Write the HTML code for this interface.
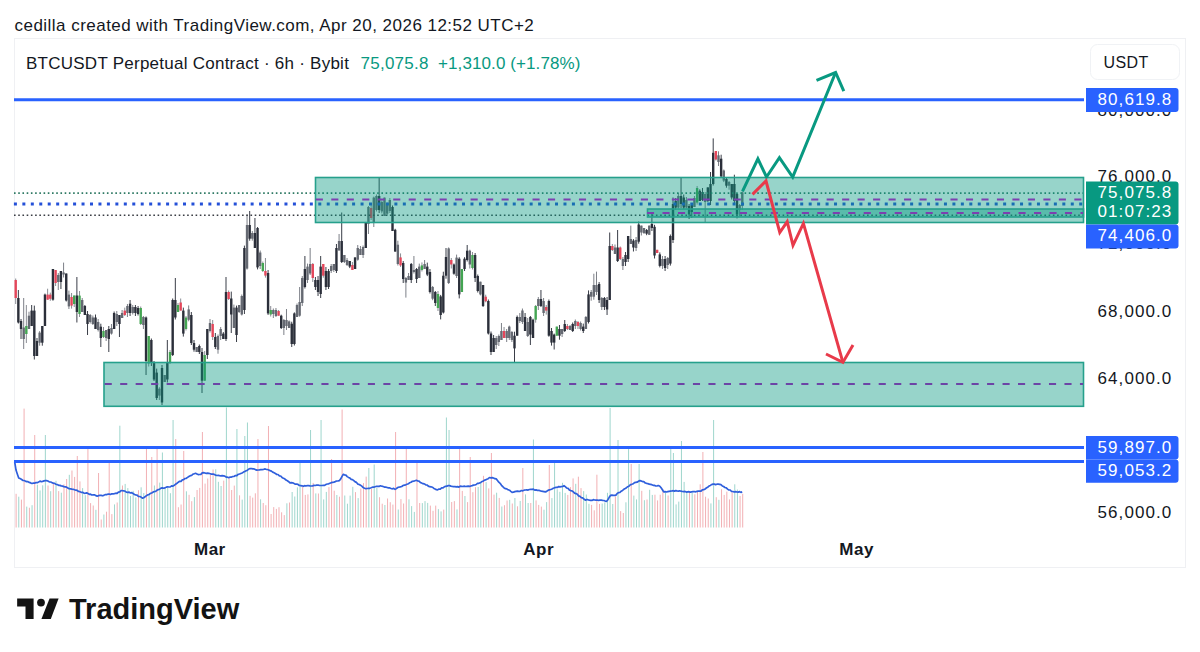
<!DOCTYPE html><html><head><meta charset="utf-8"><style>html,body{margin:0;padding:0;background:#fff;width:1200px;height:652px;overflow:hidden}svg{display:block}text{font-family:"Liberation Sans",sans-serif}</style></head><body>
<svg width="1200" height="652" viewBox="0 0 1200 652">
<text x="14.5" y="30.6" font-size="17" letter-spacing="0.47" fill="#131722">cedilla created with TradingView.com, Apr 20, 2026 12:52 UTC+2</text>
<rect x="14.5" y="38.5" width="1171" height="529" fill="none" stroke="#eff0f3" stroke-width="1"/>
<text x="26" y="68.7" font-size="17" letter-spacing="0.25" fill="#131722">BTCUSDT Perpetual Contract · 6h · Bybit</text>
<text x="360.5" y="68.7" font-size="17" letter-spacing="0.25" fill="#089981">75,075.8</text>
<text x="438" y="68.7" font-size="17" letter-spacing="0.1" fill="#089981">+1,310.0 (+1.78%)</text>
<rect x="1090.5" y="44.5" width="89" height="35" rx="7" fill="#fff" stroke="#f0f2f5"/>
<text x="1103.5" y="68.1" font-size="16" letter-spacing="0.4" fill="#131722">USDT</text>
<rect x="15.60" y="493.8" width="1" height="33.7" fill="#f2b0b4"/>
<rect x="18.26" y="496.7" width="1" height="30.8" fill="#9fd6cd"/>
<rect x="20.92" y="499.6" width="1" height="27.9" fill="#f2b0b4"/>
<rect x="23.58" y="408.6" width="1" height="118.9" fill="#f2b0b4"/>
<rect x="26.24" y="506.6" width="1" height="20.9" fill="#9fd6cd"/>
<rect x="28.90" y="507.7" width="1" height="19.8" fill="#f2b0b4"/>
<rect x="31.56" y="505.2" width="1" height="22.3" fill="#9fd6cd"/>
<rect x="34.22" y="435.0" width="1" height="92.5" fill="#f2b0b4"/>
<rect x="36.88" y="484.7" width="1" height="42.8" fill="#9fd6cd"/>
<rect x="39.54" y="490.4" width="1" height="37.1" fill="#9fd6cd"/>
<rect x="42.20" y="485.3" width="1" height="42.2" fill="#9fd6cd"/>
<rect x="44.86" y="435.0" width="1" height="92.5" fill="#9fd6cd"/>
<rect x="47.52" y="485.5" width="1" height="42.0" fill="#f2b0b4"/>
<rect x="50.18" y="491.2" width="1" height="36.3" fill="#9fd6cd"/>
<rect x="52.84" y="483.3" width="1" height="44.2" fill="#f2b0b4"/>
<rect x="55.50" y="480.8" width="1" height="46.7" fill="#9fd6cd"/>
<rect x="58.16" y="491.1" width="1" height="36.4" fill="#f2b0b4"/>
<rect x="60.82" y="492.7" width="1" height="34.8" fill="#9fd6cd"/>
<rect x="63.48" y="484.3" width="1" height="43.2" fill="#f2b0b4"/>
<rect x="66.14" y="479.0" width="1" height="48.5" fill="#f2b0b4"/>
<rect x="68.80" y="474.8" width="1" height="52.7" fill="#9fd6cd"/>
<rect x="71.46" y="470.5" width="1" height="57.0" fill="#f2b0b4"/>
<rect x="74.12" y="476.9" width="1" height="50.6" fill="#f2b0b4"/>
<rect x="76.78" y="456.0" width="1" height="71.5" fill="#f2b0b4"/>
<rect x="79.44" y="481.4" width="1" height="46.1" fill="#f2b0b4"/>
<rect x="82.10" y="488.1" width="1" height="39.4" fill="#9fd6cd"/>
<rect x="84.76" y="495.2" width="1" height="32.3" fill="#9fd6cd"/>
<rect x="87.42" y="448.0" width="1" height="79.5" fill="#f2b0b4"/>
<rect x="90.08" y="503.1" width="1" height="24.4" fill="#f2b0b4"/>
<rect x="92.74" y="505.5" width="1" height="22.0" fill="#f2b0b4"/>
<rect x="95.40" y="509.8" width="1" height="17.7" fill="#9fd6cd"/>
<rect x="98.06" y="473.0" width="1" height="54.5" fill="#f2b0b4"/>
<rect x="100.72" y="519.5" width="1" height="8.0" fill="#f2b0b4"/>
<rect x="103.38" y="514.5" width="1" height="13.0" fill="#9fd6cd"/>
<rect x="106.04" y="511.7" width="1" height="15.8" fill="#f2b0b4"/>
<rect x="108.70" y="462.0" width="1" height="65.5" fill="#f2b0b4"/>
<rect x="111.36" y="514.1" width="1" height="13.4" fill="#f2b0b4"/>
<rect x="114.02" y="504.4" width="1" height="23.1" fill="#9fd6cd"/>
<rect x="116.68" y="502.5" width="1" height="25.0" fill="#f2b0b4"/>
<rect x="119.34" y="425.7" width="1" height="101.8" fill="#9fd6cd"/>
<rect x="122.00" y="485.5" width="1" height="42.0" fill="#f2b0b4"/>
<rect x="124.66" y="483.9" width="1" height="43.6" fill="#9fd6cd"/>
<rect x="127.32" y="488.1" width="1" height="39.4" fill="#9fd6cd"/>
<rect x="129.98" y="495.9" width="1" height="31.6" fill="#9fd6cd"/>
<rect x="132.64" y="490.8" width="1" height="36.7" fill="#9fd6cd"/>
<rect x="135.30" y="497.5" width="1" height="30.0" fill="#9fd6cd"/>
<rect x="137.96" y="490.2" width="1" height="37.3" fill="#f2b0b4"/>
<rect x="140.62" y="487.3" width="1" height="40.2" fill="#9fd6cd"/>
<rect x="143.28" y="493.0" width="1" height="34.5" fill="#9fd6cd"/>
<rect x="145.94" y="448.0" width="1" height="79.5" fill="#f2b0b4"/>
<rect x="148.60" y="494.6" width="1" height="32.9" fill="#9fd6cd"/>
<rect x="151.26" y="457.0" width="1" height="70.5" fill="#f2b0b4"/>
<rect x="153.92" y="485.5" width="1" height="42.0" fill="#9fd6cd"/>
<rect x="156.58" y="449.0" width="1" height="78.5" fill="#f2b0b4"/>
<rect x="159.24" y="482.6" width="1" height="44.9" fill="#9fd6cd"/>
<rect x="161.90" y="452.5" width="1" height="75.0" fill="#9fd6cd"/>
<rect x="164.57" y="487.2" width="1" height="40.3" fill="#9fd6cd"/>
<rect x="167.23" y="487.9" width="1" height="39.6" fill="#9fd6cd"/>
<rect x="169.90" y="493.2" width="1" height="34.3" fill="#9fd6cd"/>
<rect x="172.57" y="420.0" width="1" height="107.5" fill="#9fd6cd"/>
<rect x="175.23" y="439.0" width="1" height="88.5" fill="#f2b0b4"/>
<rect x="177.90" y="507.2" width="1" height="20.3" fill="#f2b0b4"/>
<rect x="180.57" y="504.5" width="1" height="23.0" fill="#f2b0b4"/>
<rect x="183.23" y="451.0" width="1" height="76.5" fill="#f2b0b4"/>
<rect x="185.90" y="491.3" width="1" height="36.2" fill="#9fd6cd"/>
<rect x="188.57" y="494.8" width="1" height="32.7" fill="#f2b0b4"/>
<rect x="191.23" y="501.2" width="1" height="26.3" fill="#f2b0b4"/>
<rect x="193.90" y="497.1" width="1" height="30.4" fill="#9fd6cd"/>
<rect x="196.57" y="490.0" width="1" height="37.5" fill="#f2b0b4"/>
<rect x="199.23" y="487.9" width="1" height="39.6" fill="#f2b0b4"/>
<rect x="201.90" y="432.0" width="1" height="95.5" fill="#f2b0b4"/>
<rect x="204.57" y="483.6" width="1" height="43.9" fill="#f2b0b4"/>
<rect x="207.23" y="478.5" width="1" height="49.0" fill="#f2b0b4"/>
<rect x="209.90" y="474.4" width="1" height="53.1" fill="#f2b0b4"/>
<rect x="212.57" y="469.5" width="1" height="58.0" fill="#f2b0b4"/>
<rect x="215.23" y="469.3" width="1" height="58.2" fill="#9fd6cd"/>
<rect x="217.90" y="481.8" width="1" height="45.7" fill="#9fd6cd"/>
<rect x="220.57" y="486.0" width="1" height="41.5" fill="#9fd6cd"/>
<rect x="223.23" y="480.6" width="1" height="46.9" fill="#f2b0b4"/>
<rect x="225.90" y="407.5" width="1" height="120.0" fill="#9fd6cd"/>
<rect x="228.53" y="478.3" width="1" height="49.2" fill="#f2b0b4"/>
<rect x="231.16" y="490.0" width="1" height="37.5" fill="#f2b0b4"/>
<rect x="233.79" y="485.6" width="1" height="41.9" fill="#f2b0b4"/>
<rect x="236.42" y="429.0" width="1" height="98.5" fill="#9fd6cd"/>
<rect x="239.05" y="495.3" width="1" height="32.2" fill="#f2b0b4"/>
<rect x="241.68" y="499.6" width="1" height="27.9" fill="#9fd6cd"/>
<rect x="244.31" y="436.0" width="1" height="91.5" fill="#9fd6cd"/>
<rect x="246.94" y="422.5" width="1" height="105.0" fill="#9fd6cd"/>
<rect x="249.57" y="495.8" width="1" height="31.7" fill="#f2b0b4"/>
<rect x="252.20" y="497.6" width="1" height="29.9" fill="#f2b0b4"/>
<rect x="254.83" y="493.3" width="1" height="34.2" fill="#f2b0b4"/>
<rect x="257.45" y="439.0" width="1" height="88.5" fill="#f2b0b4"/>
<rect x="260.08" y="499.3" width="1" height="28.2" fill="#9fd6cd"/>
<rect x="262.71" y="503.0" width="1" height="24.5" fill="#f2b0b4"/>
<rect x="265.34" y="505.2" width="1" height="22.3" fill="#f2b0b4"/>
<rect x="267.97" y="426.0" width="1" height="101.5" fill="#f2b0b4"/>
<rect x="270.60" y="514.0" width="1" height="13.5" fill="#f2b0b4"/>
<rect x="273.23" y="507.1" width="1" height="20.4" fill="#f2b0b4"/>
<rect x="275.86" y="508.9" width="1" height="18.6" fill="#f2b0b4"/>
<rect x="278.49" y="507.2" width="1" height="20.3" fill="#f2b0b4"/>
<rect x="281.12" y="512.3" width="1" height="15.2" fill="#f2b0b4"/>
<rect x="283.75" y="515.1" width="1" height="12.4" fill="#f2b0b4"/>
<rect x="286.38" y="503.3" width="1" height="24.2" fill="#9fd6cd"/>
<rect x="289.01" y="502.5" width="1" height="25.0" fill="#f2b0b4"/>
<rect x="291.64" y="492.0" width="1" height="35.5" fill="#9fd6cd"/>
<rect x="294.27" y="496.5" width="1" height="31.0" fill="#9fd6cd"/>
<rect x="296.90" y="487.4" width="1" height="40.1" fill="#9fd6cd"/>
<rect x="299.53" y="462.0" width="1" height="65.5" fill="#9fd6cd"/>
<rect x="302.16" y="487.0" width="1" height="40.5" fill="#f2b0b4"/>
<rect x="304.79" y="494.9" width="1" height="32.6" fill="#f2b0b4"/>
<rect x="307.42" y="494.4" width="1" height="33.1" fill="#f2b0b4"/>
<rect x="310.05" y="430.0" width="1" height="97.5" fill="#9fd6cd"/>
<rect x="312.67" y="482.9" width="1" height="44.6" fill="#f2b0b4"/>
<rect x="315.30" y="493.4" width="1" height="34.1" fill="#9fd6cd"/>
<rect x="317.93" y="493.5" width="1" height="34.0" fill="#f2b0b4"/>
<rect x="320.56" y="420.0" width="1" height="107.5" fill="#9fd6cd"/>
<rect x="323.19" y="499.4" width="1" height="28.1" fill="#9fd6cd"/>
<rect x="325.82" y="491.9" width="1" height="35.6" fill="#9fd6cd"/>
<rect x="328.45" y="487.1" width="1" height="40.4" fill="#f2b0b4"/>
<rect x="331.08" y="459.0" width="1" height="68.5" fill="#f2b0b4"/>
<rect x="333.71" y="490.7" width="1" height="36.8" fill="#f2b0b4"/>
<rect x="336.34" y="495.0" width="1" height="32.5" fill="#9fd6cd"/>
<rect x="338.97" y="496.7" width="1" height="30.8" fill="#f2b0b4"/>
<rect x="341.60" y="409.5" width="1" height="118.0" fill="#f2b0b4"/>
<rect x="344.27" y="495.5" width="1" height="32.0" fill="#9fd6cd"/>
<rect x="346.95" y="503.7" width="1" height="23.8" fill="#9fd6cd"/>
<rect x="349.62" y="495.6" width="1" height="31.9" fill="#9fd6cd"/>
<rect x="352.30" y="486.8" width="1" height="40.7" fill="#9fd6cd"/>
<rect x="354.97" y="492.1" width="1" height="35.4" fill="#f2b0b4"/>
<rect x="357.65" y="498.1" width="1" height="29.4" fill="#9fd6cd"/>
<rect x="360.32" y="488.5" width="1" height="39.0" fill="#f2b0b4"/>
<rect x="362.99" y="483.1" width="1" height="44.4" fill="#f2b0b4"/>
<rect x="365.67" y="476.6" width="1" height="50.9" fill="#f2b0b4"/>
<rect x="368.34" y="468.0" width="1" height="59.5" fill="#9fd6cd"/>
<rect x="371.02" y="488.9" width="1" height="38.6" fill="#f2b0b4"/>
<rect x="373.69" y="464.5" width="1" height="63.0" fill="#9fd6cd"/>
<rect x="376.37" y="487.9" width="1" height="39.6" fill="#9fd6cd"/>
<rect x="379.04" y="497.2" width="1" height="30.3" fill="#f2b0b4"/>
<rect x="381.72" y="503.7" width="1" height="23.8" fill="#f2b0b4"/>
<rect x="384.39" y="505.0" width="1" height="22.5" fill="#9fd6cd"/>
<rect x="387.06" y="498.5" width="1" height="29.0" fill="#f2b0b4"/>
<rect x="389.74" y="502.2" width="1" height="25.3" fill="#f2b0b4"/>
<rect x="392.41" y="504.6" width="1" height="22.9" fill="#f2b0b4"/>
<rect x="395.09" y="432.0" width="1" height="95.5" fill="#f2b0b4"/>
<rect x="397.76" y="509.5" width="1" height="18.0" fill="#9fd6cd"/>
<rect x="400.44" y="499.1" width="1" height="28.4" fill="#f2b0b4"/>
<rect x="403.11" y="503.5" width="1" height="24.0" fill="#f2b0b4"/>
<rect x="405.78" y="449.0" width="1" height="78.5" fill="#f2b0b4"/>
<rect x="408.46" y="499.3" width="1" height="28.2" fill="#9fd6cd"/>
<rect x="411.13" y="506.1" width="1" height="21.4" fill="#9fd6cd"/>
<rect x="413.81" y="511.9" width="1" height="15.6" fill="#9fd6cd"/>
<rect x="416.48" y="462.0" width="1" height="65.5" fill="#f2b0b4"/>
<rect x="419.16" y="503.0" width="1" height="24.5" fill="#f2b0b4"/>
<rect x="421.83" y="503.1" width="1" height="24.4" fill="#9fd6cd"/>
<rect x="424.51" y="501.1" width="1" height="26.4" fill="#9fd6cd"/>
<rect x="427.18" y="502.9" width="1" height="24.6" fill="#9fd6cd"/>
<rect x="429.85" y="505.6" width="1" height="21.9" fill="#f2b0b4"/>
<rect x="432.53" y="510.8" width="1" height="16.7" fill="#f2b0b4"/>
<rect x="435.20" y="505.6" width="1" height="21.9" fill="#f2b0b4"/>
<rect x="437.88" y="509.1" width="1" height="18.4" fill="#9fd6cd"/>
<rect x="440.55" y="511.4" width="1" height="16.1" fill="#9fd6cd"/>
<rect x="443.23" y="509.6" width="1" height="17.9" fill="#f2b0b4"/>
<rect x="445.90" y="417.5" width="1" height="110.0" fill="#9fd6cd"/>
<rect x="448.55" y="430.0" width="1" height="97.5" fill="#9fd6cd"/>
<rect x="451.19" y="502.0" width="1" height="25.5" fill="#f2b0b4"/>
<rect x="453.84" y="501.1" width="1" height="26.4" fill="#f2b0b4"/>
<rect x="456.49" y="509.4" width="1" height="18.1" fill="#9fd6cd"/>
<rect x="459.14" y="448.0" width="1" height="79.5" fill="#f2b0b4"/>
<rect x="461.78" y="490.9" width="1" height="36.6" fill="#f2b0b4"/>
<rect x="464.43" y="496.0" width="1" height="31.5" fill="#9fd6cd"/>
<rect x="467.08" y="502.1" width="1" height="25.4" fill="#f2b0b4"/>
<rect x="469.72" y="457.0" width="1" height="70.5" fill="#f2b0b4"/>
<rect x="472.37" y="492.2" width="1" height="35.3" fill="#f2b0b4"/>
<rect x="475.02" y="487.2" width="1" height="40.3" fill="#f2b0b4"/>
<rect x="477.66" y="487.0" width="1" height="40.5" fill="#9fd6cd"/>
<rect x="480.31" y="482.4" width="1" height="45.1" fill="#9fd6cd"/>
<rect x="482.96" y="475.8" width="1" height="51.7" fill="#f2b0b4"/>
<rect x="485.61" y="482.1" width="1" height="45.4" fill="#9fd6cd"/>
<rect x="488.25" y="488.4" width="1" height="39.1" fill="#f2b0b4"/>
<rect x="490.90" y="453.0" width="1" height="74.5" fill="#f2b0b4"/>
<rect x="493.51" y="494.6" width="1" height="32.9" fill="#f2b0b4"/>
<rect x="496.12" y="492.7" width="1" height="34.8" fill="#9fd6cd"/>
<rect x="498.73" y="497.9" width="1" height="29.6" fill="#f2b0b4"/>
<rect x="501.34" y="506.5" width="1" height="21.0" fill="#9fd6cd"/>
<rect x="503.96" y="505.2" width="1" height="22.3" fill="#f2b0b4"/>
<rect x="506.57" y="500.5" width="1" height="27.0" fill="#f2b0b4"/>
<rect x="509.18" y="499.8" width="1" height="27.7" fill="#9fd6cd"/>
<rect x="511.79" y="503.5" width="1" height="24.0" fill="#f2b0b4"/>
<rect x="514.40" y="498.0" width="1" height="29.5" fill="#9fd6cd"/>
<rect x="517.04" y="506.3" width="1" height="21.2" fill="#f2b0b4"/>
<rect x="519.69" y="500.9" width="1" height="26.6" fill="#9fd6cd"/>
<rect x="522.33" y="468.0" width="1" height="59.5" fill="#f2b0b4"/>
<rect x="524.98" y="494.4" width="1" height="33.1" fill="#9fd6cd"/>
<rect x="527.62" y="503.0" width="1" height="24.5" fill="#9fd6cd"/>
<rect x="530.27" y="503.0" width="1" height="24.5" fill="#f2b0b4"/>
<rect x="532.91" y="439.5" width="1" height="88.0" fill="#9fd6cd"/>
<rect x="535.56" y="500.4" width="1" height="27.1" fill="#f2b0b4"/>
<rect x="538.20" y="504.9" width="1" height="22.6" fill="#f2b0b4"/>
<rect x="540.84" y="506.6" width="1" height="20.9" fill="#f2b0b4"/>
<rect x="543.49" y="509.7" width="1" height="17.8" fill="#9fd6cd"/>
<rect x="546.13" y="502.1" width="1" height="25.4" fill="#9fd6cd"/>
<rect x="548.78" y="465.0" width="1" height="62.5" fill="#f2b0b4"/>
<rect x="551.42" y="498.1" width="1" height="29.4" fill="#9fd6cd"/>
<rect x="554.07" y="460.0" width="1" height="67.5" fill="#9fd6cd"/>
<rect x="556.71" y="489.3" width="1" height="38.2" fill="#9fd6cd"/>
<rect x="559.36" y="491.8" width="1" height="35.7" fill="#9fd6cd"/>
<rect x="562.00" y="482.8" width="1" height="44.7" fill="#9fd6cd"/>
<rect x="564.64" y="492.9" width="1" height="34.6" fill="#9fd6cd"/>
<rect x="567.29" y="494.9" width="1" height="32.6" fill="#f2b0b4"/>
<rect x="569.93" y="487.1" width="1" height="40.4" fill="#f2b0b4"/>
<rect x="572.58" y="478.4" width="1" height="49.1" fill="#f2b0b4"/>
<rect x="575.22" y="483.8" width="1" height="43.7" fill="#9fd6cd"/>
<rect x="577.87" y="476.7" width="1" height="50.8" fill="#f2b0b4"/>
<rect x="580.51" y="488.1" width="1" height="39.4" fill="#f2b0b4"/>
<rect x="583.16" y="491.1" width="1" height="36.4" fill="#9fd6cd"/>
<rect x="585.80" y="494.5" width="1" height="33.0" fill="#9fd6cd"/>
<rect x="588.44" y="503.8" width="1" height="23.7" fill="#9fd6cd"/>
<rect x="591.09" y="504.9" width="1" height="22.6" fill="#f2b0b4"/>
<rect x="593.73" y="510.3" width="1" height="17.2" fill="#f2b0b4"/>
<rect x="596.38" y="474.7" width="1" height="52.8" fill="#f2b0b4"/>
<rect x="599.02" y="503.9" width="1" height="23.6" fill="#f2b0b4"/>
<rect x="601.67" y="503.5" width="1" height="24.0" fill="#9fd6cd"/>
<rect x="604.31" y="502.4" width="1" height="25.1" fill="#9fd6cd"/>
<rect x="606.96" y="492.8" width="1" height="34.7" fill="#9fd6cd"/>
<rect x="609.60" y="408.0" width="1" height="119.5" fill="#9fd6cd"/>
<rect x="612.24" y="504.0" width="1" height="23.5" fill="#9fd6cd"/>
<rect x="614.88" y="496.3" width="1" height="31.2" fill="#f2b0b4"/>
<rect x="617.51" y="440.0" width="1" height="87.5" fill="#9fd6cd"/>
<rect x="620.15" y="511.1" width="1" height="16.4" fill="#f2b0b4"/>
<rect x="622.79" y="513.0" width="1" height="14.5" fill="#f2b0b4"/>
<rect x="625.43" y="502.3" width="1" height="25.2" fill="#9fd6cd"/>
<rect x="628.06" y="448.0" width="1" height="79.5" fill="#9fd6cd"/>
<rect x="630.70" y="464.0" width="1" height="63.5" fill="#f2b0b4"/>
<rect x="633.34" y="495.6" width="1" height="31.9" fill="#9fd6cd"/>
<rect x="635.98" y="499.4" width="1" height="28.1" fill="#9fd6cd"/>
<rect x="638.61" y="464.0" width="1" height="63.5" fill="#9fd6cd"/>
<rect x="641.25" y="490.8" width="1" height="36.7" fill="#f2b0b4"/>
<rect x="643.89" y="500.2" width="1" height="27.3" fill="#9fd6cd"/>
<rect x="646.52" y="499.5" width="1" height="28.0" fill="#f2b0b4"/>
<rect x="649.16" y="489.7" width="1" height="37.8" fill="#9fd6cd"/>
<rect x="651.80" y="494.9" width="1" height="32.6" fill="#9fd6cd"/>
<rect x="654.44" y="494.7" width="1" height="32.8" fill="#f2b0b4"/>
<rect x="657.07" y="500.4" width="1" height="27.1" fill="#f2b0b4"/>
<rect x="659.71" y="494.7" width="1" height="32.8" fill="#f2b0b4"/>
<rect x="662.35" y="489.1" width="1" height="38.4" fill="#f2b0b4"/>
<rect x="664.99" y="492.9" width="1" height="34.6" fill="#9fd6cd"/>
<rect x="667.62" y="495.5" width="1" height="32.0" fill="#f2b0b4"/>
<rect x="670.26" y="448.0" width="1" height="79.5" fill="#9fd6cd"/>
<rect x="672.90" y="453.0" width="1" height="74.5" fill="#9fd6cd"/>
<rect x="675.58" y="504.4" width="1" height="23.1" fill="#9fd6cd"/>
<rect x="678.26" y="501.6" width="1" height="25.9" fill="#9fd6cd"/>
<rect x="680.94" y="441.0" width="1" height="86.5" fill="#9fd6cd"/>
<rect x="683.62" y="481.9" width="1" height="45.6" fill="#9fd6cd"/>
<rect x="686.30" y="491.5" width="1" height="36.0" fill="#9fd6cd"/>
<rect x="688.98" y="491.6" width="1" height="35.9" fill="#f2b0b4"/>
<rect x="691.66" y="492.8" width="1" height="34.7" fill="#9fd6cd"/>
<rect x="694.34" y="494.3" width="1" height="33.2" fill="#f2b0b4"/>
<rect x="697.02" y="490.7" width="1" height="36.8" fill="#f2b0b4"/>
<rect x="699.70" y="484.3" width="1" height="43.2" fill="#f2b0b4"/>
<rect x="702.38" y="452.0" width="1" height="75.5" fill="#f2b0b4"/>
<rect x="705.06" y="496.7" width="1" height="30.8" fill="#f2b0b4"/>
<rect x="707.74" y="498.5" width="1" height="29.0" fill="#f2b0b4"/>
<rect x="710.42" y="503.4" width="1" height="24.1" fill="#9fd6cd"/>
<rect x="713.10" y="420.0" width="1" height="107.5" fill="#9fd6cd"/>
<rect x="715.75" y="497.2" width="1" height="30.3" fill="#f2b0b4"/>
<rect x="718.39" y="499.8" width="1" height="27.7" fill="#9fd6cd"/>
<rect x="721.04" y="489.2" width="1" height="38.3" fill="#f2b0b4"/>
<rect x="723.68" y="494.9" width="1" height="32.6" fill="#f2b0b4"/>
<rect x="726.33" y="491.6" width="1" height="35.9" fill="#f2b0b4"/>
<rect x="728.97" y="499.4" width="1" height="28.1" fill="#f2b0b4"/>
<rect x="731.62" y="492.2" width="1" height="35.3" fill="#f2b0b4"/>
<rect x="734.26" y="484.3" width="1" height="43.2" fill="#9fd6cd"/>
<rect x="736.91" y="489.5" width="1" height="38.0" fill="#9fd6cd"/>
<rect x="739.55" y="495.9" width="1" height="31.6" fill="#f2b0b4"/>
<rect x="742.20" y="493.8" width="1" height="33.7" fill="#f2b0b4"/>
<polyline fill="none" stroke="#2f5fdc" stroke-width="1.7" stroke-linejoin="round" points="14.7,462.0 16.0,470.1 17.4,474.2 18.7,478.0 20.0,478.6 21.3,479.3 22.7,480.3 24.0,480.5 25.3,481.1 26.7,481.6 28.0,481.7 29.3,482.4 30.7,482.9 32.0,483.5 33.3,483.2 34.6,483.2 36.0,482.5 37.3,482.7 38.6,482.1 40.0,481.1 41.3,481.7 42.6,481.4 44.0,480.9 45.3,480.6 46.6,480.6 47.9,481.0 49.3,481.9 50.6,482.0 51.9,482.6 53.3,483.1 54.6,483.4 55.9,484.2 57.3,484.6 58.6,485.3 59.9,485.4 61.2,485.9 62.6,486.1 63.9,486.6 65.2,486.8 66.6,487.1 67.9,488.1 69.2,488.6 70.6,488.9 71.9,489.2 73.2,489.3 74.5,489.7 75.9,490.2 77.2,490.4 78.5,491.5 79.9,491.6 81.2,492.4 82.5,492.3 83.9,493.1 85.2,493.3 86.5,492.9 87.8,493.4 89.2,494.3 90.5,494.2 91.8,495.0 93.2,494.8 94.5,494.8 95.8,495.6 97.2,496.1 98.5,495.7 99.8,495.4 101.1,495.4 102.5,495.8 103.8,495.4 105.1,494.6 106.5,494.6 107.8,494.2 109.1,494.0 110.5,494.5 111.8,493.8 113.1,493.9 114.4,493.6 115.8,493.2 117.1,493.4 118.4,492.1 119.8,491.8 121.1,490.5 122.4,490.7 123.8,490.8 125.1,491.2 126.4,492.1 127.7,492.3 129.1,492.1 130.4,493.0 131.7,492.7 133.1,493.4 134.4,494.5 135.7,494.9 137.1,495.1 138.4,496.5 139.7,496.5 141.0,497.1 142.4,498.2 143.7,497.7 145.0,496.8 146.4,495.7 147.7,494.9 149.0,494.5 150.4,493.3 151.7,493.0 153.0,492.1 154.4,491.5 155.7,491.3 157.0,490.2 158.3,489.6 159.7,489.2 161.0,488.2 162.3,487.9 163.7,488.3 165.0,487.9 166.3,487.1 167.7,486.8 169.0,487.0 170.3,486.9 171.6,485.9 173.0,486.1 174.3,485.3 175.6,484.2 177.0,483.3 178.3,482.2 179.6,481.3 181.0,481.3 182.3,479.9 183.6,479.6 184.9,478.5 186.3,478.3 187.6,477.4 188.9,476.5 190.3,475.7 191.6,475.5 192.9,474.2 194.3,473.7 195.6,473.3 196.9,473.9 198.2,474.6 199.6,474.5 200.9,474.3 202.2,472.9 203.6,472.7 204.9,473.0 206.2,473.3 207.6,473.1 208.9,473.3 210.2,473.7 211.5,474.1 212.9,474.0 214.2,474.4 215.5,475.1 216.9,475.5 218.2,475.4 219.5,475.7 220.9,475.9 222.2,475.7 223.5,475.9 224.8,476.1 226.2,477.2 227.5,477.2 228.8,477.7 230.2,477.0 231.5,477.1 232.8,476.5 234.2,476.3 235.5,475.5 236.8,475.7 238.1,474.3 239.5,474.0 240.8,473.5 242.1,473.0 243.5,472.1 244.8,471.4 246.1,470.8 247.5,470.2 248.8,469.0 250.1,468.6 251.4,468.5 252.8,468.9 254.1,468.9 255.4,469.6 256.8,470.1 258.1,470.0 259.4,469.9 260.8,469.6 262.1,469.6 263.4,469.5 264.7,468.9 266.1,469.3 267.4,469.5 268.7,470.0 270.1,470.6 271.4,471.1 272.7,472.1 274.1,472.7 275.4,473.4 276.7,474.5 278.0,474.5 279.4,475.9 280.7,476.0 282.0,477.4 283.4,478.2 284.7,478.8 286.0,480.1 287.4,480.8 288.7,481.7 290.0,482.9 291.3,482.7 292.7,482.8 294.0,483.4 295.3,484.2 296.7,484.1 298.0,484.4 299.3,485.5 300.7,485.6 302.0,485.8 303.3,486.3 304.6,485.7 306.0,486.0 307.3,485.5 308.6,485.7 310.0,485.9 311.3,486.0 312.6,485.9 314.0,485.4 315.3,485.5 316.6,485.2 317.9,485.0 319.3,485.3 320.6,485.5 321.9,485.5 323.3,485.3 324.6,485.4 325.9,484.5 327.3,484.0 328.6,483.8 329.9,483.2 331.2,482.7 332.6,482.4 333.9,482.1 335.2,481.6 336.6,481.0 337.9,481.0 339.2,480.7 340.6,479.1 341.9,476.6 343.2,474.4 344.5,474.9 345.9,475.1 347.2,476.6 348.5,477.4 349.9,478.1 351.2,479.4 352.5,479.7 353.8,480.7 355.2,481.9 356.5,482.4 357.8,484.1 359.2,484.5 360.5,485.3 361.8,486.1 363.2,487.6 364.5,488.3 365.8,488.7 367.1,488.5 368.5,488.4 369.8,488.3 371.1,487.8 372.5,487.2 373.8,487.2 375.1,486.7 376.5,486.3 377.8,486.4 379.1,486.4 380.4,485.8 381.8,486.2 383.1,486.5 384.4,487.1 385.8,487.2 387.1,487.5 388.4,487.9 389.8,487.9 391.1,488.5 392.4,488.8 393.7,488.4 395.1,489.4 396.4,488.6 397.7,487.5 399.1,487.2 400.4,486.8 401.7,486.5 403.1,485.5 404.4,485.1 405.7,484.8 407.0,484.2 408.4,483.8 409.7,482.7 411.0,482.3 412.4,481.3 413.7,481.2 415.0,480.7 416.4,480.3 417.7,481.0 419.0,481.1 420.3,482.4 421.7,483.1 423.0,483.7 424.3,483.9 425.7,484.8 427.0,485.0 428.3,486.1 429.7,486.7 431.0,486.8 432.3,487.2 433.6,488.2 435.0,488.9 436.3,489.7 437.6,489.9 439.0,489.0 440.3,489.1 441.6,487.9 443.0,487.9 444.3,486.8 445.6,486.4 446.9,486.2 448.3,485.5 449.6,485.6 450.9,486.1 452.3,486.4 453.6,486.6 454.9,486.6 456.3,486.9 457.6,486.6 458.9,487.1 460.2,486.2 461.6,486.3 462.9,486.5 464.2,486.2 465.6,486.5 466.9,486.3 468.2,486.1 469.6,486.4 470.9,486.0 472.2,485.6 473.5,485.1 474.9,485.0 476.2,484.5 477.5,483.3 478.9,483.3 480.2,482.8 481.5,481.8 482.9,481.3 484.2,480.3 485.5,479.9 486.8,479.2 488.2,478.7 489.5,477.5 490.8,477.8 492.2,477.7 493.5,478.0 494.8,478.7 496.2,478.9 497.5,480.5 498.8,482.2 500.1,483.3 501.5,485.3 502.8,486.7 504.1,487.9 505.5,488.7 506.8,488.8 508.1,489.8 509.5,490.2 510.8,491.3 512.1,492.3 513.4,492.2 514.8,491.6 516.1,491.3 517.4,491.1 518.8,491.3 520.1,491.4 521.4,490.5 522.8,490.9 524.1,490.1 525.4,490.0 526.7,489.8 528.1,490.1 529.4,489.5 530.7,489.4 532.1,489.4 533.4,489.2 534.7,490.1 536.1,489.8 537.4,490.4 538.7,490.4 540.0,490.7 541.4,491.2 542.7,491.4 544.0,491.6 545.4,491.9 546.7,491.4 548.0,490.4 549.4,489.8 550.7,489.5 552.0,488.9 553.3,488.2 554.7,487.8 556.0,487.4 557.3,487.4 558.7,486.6 560.0,486.8 561.3,486.6 562.7,486.5 564.0,485.7 565.3,486.6 566.6,488.0 568.0,488.3 569.3,489.9 570.6,490.6 572.0,490.8 573.3,491.8 574.6,493.1 576.0,493.6 577.3,494.3 578.6,495.9 580.0,496.4 581.3,497.6 582.6,497.9 583.9,499.0 585.3,500.1 586.6,499.6 587.9,499.7 589.3,500.2 590.6,500.4 591.9,500.4 593.3,499.7 594.6,500.0 595.9,500.2 597.2,500.0 598.6,500.3 599.9,500.1 601.2,500.2 602.6,500.4 603.9,500.5 605.2,501.1 606.6,501.3 607.9,499.7 609.2,497.3 610.5,495.4 611.9,495.1 613.2,495.4 614.5,495.4 615.9,495.1 617.2,493.5 618.5,492.6 619.9,492.5 621.2,491.2 622.5,490.5 623.8,489.3 625.2,488.5 626.5,487.7 627.8,486.7 629.2,486.0 630.5,484.6 631.8,484.3 633.2,483.8 634.5,482.7 635.8,482.4 637.1,482.2 638.5,481.3 639.8,480.6 641.1,480.9 642.5,481.6 643.8,481.6 645.1,482.9 646.5,483.3 647.8,483.6 649.1,484.2 650.4,484.4 651.8,484.7 653.1,485.3 654.4,485.4 655.8,486.0 657.1,485.9 658.4,485.5 659.8,486.2 661.1,487.8 662.4,489.8 663.7,491.9 665.1,491.7 666.4,492.0 667.7,491.7 669.1,491.4 670.4,491.2 671.7,491.0 673.1,490.7 674.4,491.1 675.7,490.6 677.0,490.9 678.4,491.1 679.7,490.8 681.0,491.2 682.4,491.5 683.7,491.6 685.0,491.4 686.4,492.1 687.7,491.9 689.0,491.7 690.3,492.1 691.7,491.9 693.0,491.7 694.3,491.5 695.7,491.8 697.0,491.4 698.3,491.2 699.7,491.1 701.0,491.2 702.3,489.8 703.6,489.6 705.0,489.1 706.3,488.0 707.6,487.3 709.0,486.1 710.3,485.4 711.6,484.6 713.0,484.1 714.3,484.1 715.6,484.6 716.9,484.2 718.3,484.1 719.6,484.4 720.9,484.7 722.3,485.9 723.6,486.5 724.9,487.5 726.3,487.8 727.6,489.1 728.9,490.0 730.2,490.0 731.6,491.5 732.9,491.5 734.2,492.0 735.6,491.7 736.9,492.0 738.2,492.1 739.6,491.6 740.9,492.4 742.2,491.9"/>
<rect x="15.20" y="278.5" width="1" height="25.5" fill="#8a8d94"/>
<rect x="14.50" y="280.0" width="2.4" height="18.0" fill="#e4465a"/>
<rect x="17.86" y="290.0" width="1" height="33.5" fill="#3a3e48"/>
<rect x="17.16" y="298.0" width="2.4" height="24.5" fill="#2b2f3a"/>
<rect x="20.52" y="319.0" width="1" height="20.0" fill="#3a3e48"/>
<rect x="19.82" y="321.0" width="2.4" height="8.0" fill="#2b2f3a"/>
<rect x="23.18" y="298.0" width="1" height="51.0" fill="#7d8088"/>
<rect x="22.48" y="327.5" width="2.4" height="11.5" fill="#656972"/>
<rect x="25.84" y="305.0" width="1" height="38.0" fill="#8a8d94"/>
<rect x="25.14" y="326.0" width="2.4" height="8.0" fill="#43a552"/>
<rect x="28.50" y="311.7" width="1" height="17.3" fill="#7d8088"/>
<rect x="27.80" y="315.7" width="2.4" height="13.3" fill="#656972"/>
<rect x="31.16" y="305.0" width="1" height="21.0" fill="#3a3e48"/>
<rect x="30.46" y="310.6" width="2.4" height="15.4" fill="#2b2f3a"/>
<rect x="33.82" y="305.6" width="1" height="53.9" fill="#3a3e48"/>
<rect x="33.12" y="310.6" width="2.4" height="45.4" fill="#2b2f3a"/>
<rect x="36.48" y="338.0" width="1" height="18.0" fill="#3a3e48"/>
<rect x="35.78" y="341.0" width="2.4" height="15.0" fill="#2b2f3a"/>
<rect x="39.14" y="331.1" width="1" height="14.6" fill="#7d8088"/>
<rect x="38.44" y="332.6" width="2.4" height="10.1" fill="#656972"/>
<rect x="41.80" y="326.0" width="1" height="19.7" fill="#3a3e48"/>
<rect x="41.10" y="326.0" width="2.4" height="16.7" fill="#2b2f3a"/>
<rect x="44.46" y="293.6" width="1" height="32.4" fill="#3a3e48"/>
<rect x="43.76" y="294.6" width="2.4" height="31.4" fill="#2b2f3a"/>
<rect x="47.12" y="288.7" width="1" height="11.0" fill="#8a8d94"/>
<rect x="46.42" y="294.6" width="2.4" height="5.1" fill="#e4465a"/>
<rect x="49.78" y="292.6" width="1" height="8.2" fill="#8a8d94"/>
<rect x="49.08" y="294.6" width="2.4" height="4.2" fill="#e4465a"/>
<rect x="52.44" y="269.0" width="1" height="31.7" fill="#3a3e48"/>
<rect x="51.74" y="269.0" width="2.4" height="30.7" fill="#2b2f3a"/>
<rect x="55.10" y="270.0" width="1" height="16.0" fill="#8a8d94"/>
<rect x="54.40" y="270.0" width="2.4" height="13.0" fill="#e4465a"/>
<rect x="57.76" y="273.0" width="1" height="17.0" fill="#7d8088"/>
<rect x="57.06" y="275.0" width="2.4" height="7.0" fill="#656972"/>
<rect x="60.42" y="271.0" width="1" height="18.0" fill="#3a3e48"/>
<rect x="59.72" y="271.0" width="2.4" height="11.0" fill="#2b2f3a"/>
<rect x="63.08" y="262.6" width="1" height="14.9" fill="#7d8088"/>
<rect x="62.38" y="272.5" width="2.4" height="2.0" fill="#656972"/>
<rect x="65.74" y="273.5" width="1" height="28.0" fill="#3a3e48"/>
<rect x="65.04" y="273.5" width="2.4" height="27.0" fill="#2b2f3a"/>
<rect x="68.40" y="290.6" width="1" height="18.4" fill="#7d8088"/>
<rect x="67.70" y="294.6" width="2.4" height="11.8" fill="#656972"/>
<rect x="71.06" y="293.0" width="1" height="15.6" fill="#8a8d94"/>
<rect x="70.36" y="297.0" width="2.4" height="8.6" fill="#e4465a"/>
<rect x="73.72" y="295.5" width="1" height="11.5" fill="#8a8d94"/>
<rect x="73.02" y="295.5" width="2.4" height="8.5" fill="#43a552"/>
<rect x="76.38" y="277.0" width="1" height="45.5" fill="#3a3e48"/>
<rect x="75.68" y="295.5" width="2.4" height="16.5" fill="#2b2f3a"/>
<rect x="79.04" y="291.0" width="1" height="26.0" fill="#8a8d94"/>
<rect x="78.34" y="295.6" width="2.4" height="18.4" fill="#43a552"/>
<rect x="81.70" y="298.0" width="1" height="14.0" fill="#7d8088"/>
<rect x="81.00" y="300.0" width="2.4" height="12.0" fill="#656972"/>
<rect x="84.36" y="305.0" width="1" height="10.0" fill="#3a3e48"/>
<rect x="83.66" y="306.0" width="2.4" height="9.0" fill="#2b2f3a"/>
<rect x="87.02" y="311.0" width="1" height="24.0" fill="#3a3e48"/>
<rect x="86.32" y="314.0" width="2.4" height="10.0" fill="#2b2f3a"/>
<rect x="89.68" y="314.0" width="1" height="9.5" fill="#7d8088"/>
<rect x="88.98" y="315.0" width="2.4" height="7.0" fill="#656972"/>
<rect x="92.34" y="315.5" width="1" height="9.5" fill="#7d8088"/>
<rect x="91.64" y="317.5" width="2.4" height="6.5" fill="#656972"/>
<rect x="95.00" y="314.5" width="1" height="14.5" fill="#3a3e48"/>
<rect x="94.30" y="317.5" width="2.4" height="11.5" fill="#2b2f3a"/>
<rect x="97.66" y="319.0" width="1" height="12.5" fill="#7d8088"/>
<rect x="96.96" y="322.0" width="2.4" height="8.0" fill="#656972"/>
<rect x="100.32" y="323.7" width="1" height="23.3" fill="#3a3e48"/>
<rect x="99.62" y="326.7" width="2.4" height="11.3" fill="#2b2f3a"/>
<rect x="102.98" y="327.0" width="1" height="11.0" fill="#8a8d94"/>
<rect x="102.28" y="331.0" width="2.4" height="6.0" fill="#43a552"/>
<rect x="105.64" y="330.0" width="1" height="11.0" fill="#7d8088"/>
<rect x="104.94" y="330.0" width="2.4" height="8.0" fill="#656972"/>
<rect x="108.30" y="326.0" width="1" height="26.0" fill="#3a3e48"/>
<rect x="107.60" y="329.0" width="2.4" height="10.0" fill="#2b2f3a"/>
<rect x="110.96" y="324.0" width="1" height="10.6" fill="#7d8088"/>
<rect x="110.26" y="328.0" width="2.4" height="5.6" fill="#656972"/>
<rect x="113.62" y="311.5" width="1" height="17.5" fill="#3a3e48"/>
<rect x="112.92" y="313.0" width="2.4" height="16.0" fill="#2b2f3a"/>
<rect x="116.28" y="311.0" width="1" height="15.0" fill="#7d8088"/>
<rect x="115.58" y="314.0" width="2.4" height="8.0" fill="#656972"/>
<rect x="118.94" y="315.0" width="1" height="22.0" fill="#3a3e48"/>
<rect x="118.24" y="315.0" width="2.4" height="9.0" fill="#2b2f3a"/>
<rect x="121.60" y="310.0" width="1" height="8.0" fill="#7d8088"/>
<rect x="120.90" y="313.0" width="2.4" height="5.0" fill="#656972"/>
<rect x="124.26" y="307.6" width="1" height="8.4" fill="#8a8d94"/>
<rect x="123.56" y="310.6" width="2.4" height="4.4" fill="#e4465a"/>
<rect x="126.92" y="304.0" width="1" height="13.0" fill="#7d8088"/>
<rect x="126.22" y="306.0" width="2.4" height="7.0" fill="#656972"/>
<rect x="129.58" y="300.0" width="1" height="16.0" fill="#3a3e48"/>
<rect x="128.88" y="303.7" width="2.4" height="9.3" fill="#2b2f3a"/>
<rect x="132.24" y="305.0" width="1" height="9.5" fill="#7d8088"/>
<rect x="131.54" y="307.0" width="2.4" height="6.0" fill="#656972"/>
<rect x="134.90" y="305.0" width="1" height="11.0" fill="#3a3e48"/>
<rect x="134.20" y="307.0" width="2.4" height="6.0" fill="#2b2f3a"/>
<rect x="137.56" y="306.0" width="1" height="9.5" fill="#3a3e48"/>
<rect x="136.86" y="308.0" width="2.4" height="6.0" fill="#2b2f3a"/>
<rect x="140.22" y="306.5" width="1" height="18.5" fill="#8a8d94"/>
<rect x="139.52" y="308.0" width="2.4" height="16.0" fill="#43a552"/>
<rect x="142.88" y="316.0" width="1" height="13.0" fill="#7d8088"/>
<rect x="142.18" y="317.0" width="2.4" height="8.0" fill="#656972"/>
<rect x="145.54" y="316.5" width="1" height="58.5" fill="#3a3e48"/>
<rect x="144.84" y="317.5" width="2.4" height="43.5" fill="#2b2f3a"/>
<rect x="148.20" y="336.0" width="1" height="30.5" fill="#8a8d94"/>
<rect x="147.50" y="336.0" width="2.4" height="27.5" fill="#43a552"/>
<rect x="150.86" y="338.5" width="1" height="27.5" fill="#3a3e48"/>
<rect x="150.16" y="340.0" width="2.4" height="23.0" fill="#2b2f3a"/>
<rect x="153.52" y="361.0" width="1" height="20.0" fill="#3a3e48"/>
<rect x="152.82" y="363.0" width="2.4" height="16.5" fill="#2b2f3a"/>
<rect x="156.18" y="368.6" width="1" height="31.4" fill="#3a3e48"/>
<rect x="155.48" y="372.6" width="2.4" height="25.4" fill="#2b2f3a"/>
<rect x="158.84" y="387.2" width="1" height="12.8" fill="#7d8088"/>
<rect x="158.14" y="388.7" width="2.4" height="6.9" fill="#656972"/>
<rect x="161.50" y="365.0" width="1" height="40.0" fill="#3a3e48"/>
<rect x="160.80" y="368.0" width="2.4" height="34.5" fill="#2b2f3a"/>
<rect x="164.17" y="375.0" width="1" height="7.0" fill="#7d8088"/>
<rect x="163.47" y="375.0" width="2.4" height="7.0" fill="#656972"/>
<rect x="166.83" y="340.0" width="1" height="42.5" fill="#3a3e48"/>
<rect x="166.13" y="363.0" width="2.4" height="16.5" fill="#2b2f3a"/>
<rect x="169.50" y="350.0" width="1" height="14.0" fill="#8a8d94"/>
<rect x="168.80" y="352.0" width="2.4" height="11.0" fill="#43a552"/>
<rect x="172.17" y="298.5" width="1" height="57.5" fill="#3a3e48"/>
<rect x="171.47" y="300.0" width="2.4" height="55.0" fill="#2b2f3a"/>
<rect x="174.83" y="278.0" width="1" height="41.5" fill="#3a3e48"/>
<rect x="174.13" y="300.0" width="2.4" height="17.5" fill="#2b2f3a"/>
<rect x="177.50" y="303.0" width="1" height="9.0" fill="#8a8d94"/>
<rect x="176.80" y="305.0" width="2.4" height="7.0" fill="#43a552"/>
<rect x="180.17" y="298.5" width="1" height="12.1" fill="#8a8d94"/>
<rect x="179.47" y="302.5" width="2.4" height="8.1" fill="#e4465a"/>
<rect x="182.83" y="307.6" width="1" height="29.0" fill="#3a3e48"/>
<rect x="182.13" y="310.6" width="2.4" height="23.0" fill="#2b2f3a"/>
<rect x="185.50" y="316.0" width="1" height="14.5" fill="#8a8d94"/>
<rect x="184.80" y="317.5" width="2.4" height="11.5" fill="#43a552"/>
<rect x="188.17" y="305.4" width="1" height="15.9" fill="#7d8088"/>
<rect x="187.47" y="309.4" width="2.4" height="10.4" fill="#656972"/>
<rect x="190.83" y="312.0" width="1" height="33.0" fill="#3a3e48"/>
<rect x="190.13" y="315.0" width="2.4" height="28.0" fill="#2b2f3a"/>
<rect x="193.50" y="340.0" width="1" height="11.7" fill="#3a3e48"/>
<rect x="192.80" y="343.0" width="2.4" height="6.7" fill="#2b2f3a"/>
<rect x="196.17" y="347.0" width="1" height="5.0" fill="#7d8088"/>
<rect x="195.47" y="347.0" width="2.4" height="5.0" fill="#656972"/>
<rect x="198.83" y="344.5" width="1" height="9.5" fill="#3a3e48"/>
<rect x="198.13" y="346.0" width="2.4" height="6.0" fill="#2b2f3a"/>
<rect x="201.50" y="348.0" width="1" height="45.0" fill="#3a3e48"/>
<rect x="200.80" y="352.0" width="2.4" height="28.7" fill="#2b2f3a"/>
<rect x="204.17" y="351.0" width="1" height="29.7" fill="#8a8d94"/>
<rect x="203.47" y="355.0" width="2.4" height="25.7" fill="#43a552"/>
<rect x="206.83" y="329.0" width="1" height="30.0" fill="#3a3e48"/>
<rect x="206.13" y="329.0" width="2.4" height="26.0" fill="#2b2f3a"/>
<rect x="209.50" y="319.0" width="1" height="13.5" fill="#7d8088"/>
<rect x="208.80" y="323.0" width="2.4" height="8.0" fill="#656972"/>
<rect x="212.17" y="320.0" width="1" height="20.0" fill="#8a8d94"/>
<rect x="211.47" y="324.0" width="2.4" height="13.0" fill="#e4465a"/>
<rect x="214.83" y="333.0" width="1" height="16.0" fill="#3a3e48"/>
<rect x="214.13" y="337.0" width="2.4" height="10.0" fill="#2b2f3a"/>
<rect x="217.50" y="334.5" width="1" height="19.2" fill="#7d8088"/>
<rect x="216.80" y="336.0" width="2.4" height="13.7" fill="#656972"/>
<rect x="220.17" y="327.0" width="1" height="13.0" fill="#7d8088"/>
<rect x="219.47" y="329.0" width="2.4" height="7.0" fill="#656972"/>
<rect x="222.83" y="332.1" width="1" height="6.9" fill="#3a3e48"/>
<rect x="222.13" y="333.6" width="2.4" height="5.4" fill="#2b2f3a"/>
<rect x="225.50" y="277.0" width="1" height="64.0" fill="#3a3e48"/>
<rect x="224.80" y="292.0" width="2.4" height="47.0" fill="#2b2f3a"/>
<rect x="228.13" y="290.5" width="1" height="9.5" fill="#8a8d94"/>
<rect x="227.43" y="292.0" width="2.4" height="7.0" fill="#e4465a"/>
<rect x="230.76" y="291.6" width="1" height="41.4" fill="#3a3e48"/>
<rect x="230.06" y="298.5" width="2.4" height="16.0" fill="#2b2f3a"/>
<rect x="233.39" y="304.6" width="1" height="23.4" fill="#7d8088"/>
<rect x="232.69" y="307.6" width="2.4" height="20.4" fill="#656972"/>
<rect x="236.02" y="305.6" width="1" height="36.4" fill="#3a3e48"/>
<rect x="235.32" y="307.6" width="2.4" height="27.4" fill="#2b2f3a"/>
<rect x="238.65" y="305.0" width="1" height="8.0" fill="#7d8088"/>
<rect x="237.95" y="305.0" width="2.4" height="7.0" fill="#656972"/>
<rect x="241.28" y="294.5" width="1" height="21.0" fill="#7d8088"/>
<rect x="240.58" y="296.0" width="2.4" height="18.5" fill="#656972"/>
<rect x="243.91" y="245.6" width="1" height="68.4" fill="#3a3e48"/>
<rect x="243.21" y="248.0" width="2.4" height="62.0" fill="#2b2f3a"/>
<rect x="246.54" y="214.5" width="1" height="55.1" fill="#7d8088"/>
<rect x="245.84" y="225.0" width="2.4" height="43.6" fill="#656972"/>
<rect x="249.17" y="211.0" width="1" height="29.7" fill="#3a3e48"/>
<rect x="248.47" y="225.0" width="2.4" height="13.7" fill="#2b2f3a"/>
<rect x="251.80" y="231.0" width="1" height="9.7" fill="#7d8088"/>
<rect x="251.10" y="233.0" width="2.4" height="5.7" fill="#656972"/>
<rect x="254.43" y="218.0" width="1" height="30.0" fill="#3a3e48"/>
<rect x="253.73" y="233.0" width="2.4" height="15.0" fill="#2b2f3a"/>
<rect x="257.05" y="227.0" width="1" height="42.4" fill="#3a3e48"/>
<rect x="256.35" y="228.0" width="2.4" height="39.4" fill="#2b2f3a"/>
<rect x="259.68" y="250.5" width="1" height="18.5" fill="#7d8088"/>
<rect x="258.98" y="252.5" width="2.4" height="13.5" fill="#656972"/>
<rect x="262.31" y="261.5" width="1" height="10.5" fill="#8a8d94"/>
<rect x="261.61" y="263.0" width="2.4" height="8.0" fill="#43a552"/>
<rect x="264.94" y="258.0" width="1" height="19.6" fill="#8a8d94"/>
<rect x="264.24" y="271.0" width="2.4" height="4.6" fill="#e4465a"/>
<rect x="267.57" y="270.0" width="1" height="44.9" fill="#3a3e48"/>
<rect x="266.87" y="273.0" width="2.4" height="40.4" fill="#2b2f3a"/>
<rect x="270.20" y="306.0" width="1" height="10.5" fill="#8a8d94"/>
<rect x="269.50" y="310.0" width="2.4" height="4.5" fill="#43a552"/>
<rect x="272.83" y="308.5" width="1" height="9.5" fill="#7d8088"/>
<rect x="272.13" y="310.0" width="2.4" height="4.0" fill="#656972"/>
<rect x="275.46" y="308.0" width="1" height="9.0" fill="#7d8088"/>
<rect x="274.76" y="310.0" width="2.4" height="6.0" fill="#656972"/>
<rect x="278.09" y="310.0" width="1" height="5.7" fill="#8a8d94"/>
<rect x="277.39" y="311.0" width="2.4" height="4.7" fill="#e4465a"/>
<rect x="280.72" y="314.7" width="1" height="14.3" fill="#3a3e48"/>
<rect x="280.02" y="315.7" width="2.4" height="12.3" fill="#2b2f3a"/>
<rect x="283.35" y="319.0" width="1" height="16.0" fill="#7d8088"/>
<rect x="282.65" y="320.0" width="2.4" height="8.0" fill="#656972"/>
<rect x="285.98" y="309.0" width="1" height="21.0" fill="#7d8088"/>
<rect x="285.28" y="320.0" width="2.4" height="6.0" fill="#656972"/>
<rect x="288.61" y="320.4" width="1" height="7.6" fill="#7d8088"/>
<rect x="287.91" y="321.4" width="2.4" height="6.6" fill="#656972"/>
<rect x="291.24" y="321.7" width="1" height="25.3" fill="#3a3e48"/>
<rect x="290.54" y="323.7" width="2.4" height="20.3" fill="#2b2f3a"/>
<rect x="293.87" y="312.4" width="1" height="33.1" fill="#3a3e48"/>
<rect x="293.17" y="313.4" width="2.4" height="30.6" fill="#2b2f3a"/>
<rect x="296.50" y="303.5" width="1" height="13.5" fill="#7d8088"/>
<rect x="295.80" y="305.0" width="2.4" height="12.0" fill="#656972"/>
<rect x="299.13" y="287.0" width="1" height="29.7" fill="#7d8088"/>
<rect x="298.43" y="302.0" width="2.4" height="13.7" fill="#656972"/>
<rect x="301.76" y="276.0" width="1" height="30.0" fill="#7d8088"/>
<rect x="301.06" y="278.0" width="2.4" height="25.0" fill="#656972"/>
<rect x="304.39" y="256.0" width="1" height="32.5" fill="#3a3e48"/>
<rect x="303.69" y="269.0" width="2.4" height="18.0" fill="#2b2f3a"/>
<rect x="307.02" y="263.6" width="1" height="19.4" fill="#7d8088"/>
<rect x="306.32" y="266.6" width="2.4" height="13.4" fill="#656972"/>
<rect x="309.65" y="248.0" width="1" height="27.0" fill="#7d8088"/>
<rect x="308.95" y="264.0" width="2.4" height="9.5" fill="#656972"/>
<rect x="312.27" y="263.0" width="1" height="19.0" fill="#8a8d94"/>
<rect x="311.57" y="264.0" width="2.4" height="14.0" fill="#e4465a"/>
<rect x="314.90" y="277.0" width="1" height="13.0" fill="#3a3e48"/>
<rect x="314.20" y="280.0" width="2.4" height="7.0" fill="#2b2f3a"/>
<rect x="317.53" y="276.0" width="1" height="20.0" fill="#3a3e48"/>
<rect x="316.83" y="280.0" width="2.4" height="12.0" fill="#2b2f3a"/>
<rect x="320.16" y="256.0" width="1" height="42.0" fill="#3a3e48"/>
<rect x="319.46" y="266.6" width="2.4" height="27.4" fill="#2b2f3a"/>
<rect x="322.79" y="264.0" width="1" height="13.7" fill="#8a8d94"/>
<rect x="322.09" y="264.0" width="2.4" height="11.7" fill="#e4465a"/>
<rect x="325.42" y="267.0" width="1" height="23.0" fill="#3a3e48"/>
<rect x="324.72" y="271.0" width="2.4" height="16.0" fill="#2b2f3a"/>
<rect x="328.05" y="269.0" width="1" height="20.0" fill="#3a3e48"/>
<rect x="327.35" y="271.0" width="2.4" height="16.0" fill="#2b2f3a"/>
<rect x="330.68" y="264.0" width="1" height="9.0" fill="#7d8088"/>
<rect x="329.98" y="266.0" width="2.4" height="5.0" fill="#656972"/>
<rect x="333.31" y="264.0" width="1" height="8.0" fill="#7d8088"/>
<rect x="332.61" y="264.0" width="2.4" height="6.0" fill="#656972"/>
<rect x="335.94" y="244.0" width="1" height="29.0" fill="#3a3e48"/>
<rect x="335.24" y="248.0" width="2.4" height="23.0" fill="#2b2f3a"/>
<rect x="338.57" y="234.0" width="1" height="16.5" fill="#7d8088"/>
<rect x="337.87" y="241.0" width="2.4" height="9.5" fill="#656972"/>
<rect x="341.20" y="212.5" width="1" height="50.5" fill="#3a3e48"/>
<rect x="340.50" y="241.0" width="2.4" height="21.0" fill="#2b2f3a"/>
<rect x="343.87" y="255.0" width="1" height="8.0" fill="#7d8088"/>
<rect x="343.17" y="255.0" width="2.4" height="7.0" fill="#656972"/>
<rect x="346.55" y="258.0" width="1" height="8.0" fill="#7d8088"/>
<rect x="345.85" y="260.0" width="2.4" height="5.0" fill="#656972"/>
<rect x="349.22" y="261.0" width="1" height="7.1" fill="#3a3e48"/>
<rect x="348.52" y="261.0" width="2.4" height="5.6" fill="#2b2f3a"/>
<rect x="351.90" y="262.0" width="1" height="8.0" fill="#8a8d94"/>
<rect x="351.20" y="265.0" width="2.4" height="5.0" fill="#e4465a"/>
<rect x="354.57" y="257.4" width="1" height="11.6" fill="#3a3e48"/>
<rect x="353.87" y="257.4" width="2.4" height="11.6" fill="#2b2f3a"/>
<rect x="357.25" y="245.0" width="1" height="15.7" fill="#7d8088"/>
<rect x="356.55" y="248.0" width="2.4" height="11.7" fill="#656972"/>
<rect x="359.92" y="246.0" width="1" height="9.0" fill="#7d8088"/>
<rect x="359.22" y="249.0" width="2.4" height="6.0" fill="#656972"/>
<rect x="362.59" y="245.5" width="1" height="12.5" fill="#7d8088"/>
<rect x="361.89" y="247.0" width="2.4" height="8.0" fill="#656972"/>
<rect x="365.27" y="223.0" width="1" height="25.0" fill="#3a3e48"/>
<rect x="364.57" y="223.0" width="2.4" height="25.0" fill="#2b2f3a"/>
<rect x="367.94" y="206.0" width="1" height="28.0" fill="#7d8088"/>
<rect x="367.24" y="207.0" width="2.4" height="17.0" fill="#656972"/>
<rect x="370.62" y="205.0" width="1" height="15.0" fill="#8a8d94"/>
<rect x="369.92" y="208.0" width="2.4" height="10.0" fill="#e4465a"/>
<rect x="373.29" y="196.6" width="1" height="30.4" fill="#7d8088"/>
<rect x="372.59" y="197.6" width="2.4" height="25.4" fill="#656972"/>
<rect x="375.97" y="194.5" width="1" height="17.0" fill="#7d8088"/>
<rect x="375.27" y="196.0" width="2.4" height="14.0" fill="#656972"/>
<rect x="378.64" y="177.0" width="1" height="36.0" fill="#3a3e48"/>
<rect x="377.94" y="196.0" width="2.4" height="14.0" fill="#2b2f3a"/>
<rect x="381.32" y="200.5" width="1" height="12.9" fill="#7d8088"/>
<rect x="380.62" y="202.0" width="2.4" height="9.4" fill="#656972"/>
<rect x="383.99" y="197.6" width="1" height="18.4" fill="#7d8088"/>
<rect x="383.29" y="197.6" width="2.4" height="18.4" fill="#656972"/>
<rect x="386.66" y="202.5" width="1" height="13.2" fill="#7d8088"/>
<rect x="385.96" y="204.5" width="2.4" height="9.2" fill="#656972"/>
<rect x="389.34" y="198.0" width="1" height="15.0" fill="#7d8088"/>
<rect x="388.64" y="200.0" width="2.4" height="11.0" fill="#656972"/>
<rect x="392.01" y="205.5" width="1" height="25.5" fill="#3a3e48"/>
<rect x="391.31" y="207.0" width="2.4" height="24.0" fill="#2b2f3a"/>
<rect x="394.69" y="228.8" width="1" height="22.8" fill="#3a3e48"/>
<rect x="393.99" y="229.8" width="2.4" height="21.8" fill="#2b2f3a"/>
<rect x="397.36" y="240.7" width="1" height="24.8" fill="#7d8088"/>
<rect x="396.66" y="244.7" width="2.4" height="19.3" fill="#656972"/>
<rect x="400.04" y="253.4" width="1" height="13.5" fill="#8a8d94"/>
<rect x="399.34" y="257.4" width="2.4" height="8.0" fill="#e4465a"/>
<rect x="402.71" y="261.0" width="1" height="22.0" fill="#3a3e48"/>
<rect x="402.01" y="263.0" width="2.4" height="16.0" fill="#2b2f3a"/>
<rect x="405.38" y="277.0" width="1" height="20.6" fill="#7d8088"/>
<rect x="404.68" y="278.0" width="2.4" height="4.6" fill="#656972"/>
<rect x="408.06" y="273.0" width="1" height="7.0" fill="#7d8088"/>
<rect x="407.36" y="276.0" width="2.4" height="4.0" fill="#656972"/>
<rect x="410.73" y="263.0" width="1" height="20.0" fill="#3a3e48"/>
<rect x="410.03" y="264.0" width="2.4" height="16.0" fill="#2b2f3a"/>
<rect x="413.41" y="256.0" width="1" height="17.5" fill="#7d8088"/>
<rect x="412.71" y="270.0" width="2.4" height="2.0" fill="#656972"/>
<rect x="416.08" y="268.0" width="1" height="15.0" fill="#3a3e48"/>
<rect x="415.38" y="269.0" width="2.4" height="10.0" fill="#2b2f3a"/>
<rect x="418.76" y="263.6" width="1" height="14.4" fill="#7d8088"/>
<rect x="418.06" y="266.6" width="2.4" height="11.4" fill="#656972"/>
<rect x="421.43" y="262.4" width="1" height="9.1" fill="#8a8d94"/>
<rect x="420.73" y="265.4" width="2.4" height="4.6" fill="#43a552"/>
<rect x="424.11" y="260.0" width="1" height="9.0" fill="#7d8088"/>
<rect x="423.41" y="264.0" width="2.4" height="5.0" fill="#656972"/>
<rect x="426.78" y="262.6" width="1" height="13.5" fill="#3a3e48"/>
<rect x="426.08" y="266.6" width="2.4" height="8.0" fill="#2b2f3a"/>
<rect x="429.45" y="269.0" width="1" height="24.5" fill="#3a3e48"/>
<rect x="428.75" y="272.0" width="2.4" height="20.0" fill="#2b2f3a"/>
<rect x="432.13" y="286.0" width="1" height="14.2" fill="#7d8088"/>
<rect x="431.43" y="287.0" width="2.4" height="11.7" fill="#656972"/>
<rect x="434.80" y="291.0" width="1" height="15.0" fill="#3a3e48"/>
<rect x="434.10" y="292.0" width="2.4" height="11.0" fill="#2b2f3a"/>
<rect x="437.48" y="291.0" width="1" height="20.0" fill="#8a8d94"/>
<rect x="436.78" y="294.0" width="2.4" height="14.0" fill="#43a552"/>
<rect x="440.15" y="294.9" width="1" height="24.5" fill="#3a3e48"/>
<rect x="439.45" y="296.4" width="2.4" height="18.6" fill="#2b2f3a"/>
<rect x="442.83" y="271.7" width="1" height="41.8" fill="#3a3e48"/>
<rect x="442.13" y="275.7" width="2.4" height="36.8" fill="#2b2f3a"/>
<rect x="445.50" y="248.0" width="1" height="30.7" fill="#3a3e48"/>
<rect x="444.80" y="257.0" width="2.4" height="18.7" fill="#2b2f3a"/>
<rect x="448.15" y="247.4" width="1" height="36.6" fill="#7d8088"/>
<rect x="447.45" y="248.4" width="2.4" height="34.6" fill="#656972"/>
<rect x="450.79" y="258.0" width="1" height="10.5" fill="#8a8d94"/>
<rect x="450.09" y="260.0" width="2.4" height="4.5" fill="#e4465a"/>
<rect x="453.44" y="263.5" width="1" height="11.2" fill="#3a3e48"/>
<rect x="452.74" y="264.5" width="2.4" height="9.2" fill="#2b2f3a"/>
<rect x="456.09" y="254.6" width="1" height="23.4" fill="#7d8088"/>
<rect x="455.39" y="257.6" width="2.4" height="18.4" fill="#656972"/>
<rect x="458.74" y="257.2" width="1" height="41.2" fill="#3a3e48"/>
<rect x="458.04" y="258.7" width="2.4" height="35.7" fill="#2b2f3a"/>
<rect x="461.38" y="269.0" width="1" height="23.0" fill="#8a8d94"/>
<rect x="460.68" y="269.0" width="2.4" height="23.0" fill="#43a552"/>
<rect x="464.03" y="257.2" width="1" height="13.8" fill="#3a3e48"/>
<rect x="463.33" y="258.7" width="2.4" height="10.3" fill="#2b2f3a"/>
<rect x="466.68" y="245.0" width="1" height="16.5" fill="#3a3e48"/>
<rect x="465.98" y="250.7" width="2.4" height="9.3" fill="#2b2f3a"/>
<rect x="469.32" y="249.7" width="1" height="18.8" fill="#7d8088"/>
<rect x="468.62" y="250.7" width="2.4" height="13.8" fill="#656972"/>
<rect x="471.97" y="252.0" width="1" height="17.5" fill="#8a8d94"/>
<rect x="471.27" y="255.0" width="2.4" height="13.0" fill="#43a552"/>
<rect x="474.62" y="253.0" width="1" height="29.0" fill="#3a3e48"/>
<rect x="473.92" y="255.0" width="2.4" height="23.0" fill="#2b2f3a"/>
<rect x="477.26" y="274.5" width="1" height="18.0" fill="#3a3e48"/>
<rect x="476.56" y="276.0" width="2.4" height="15.0" fill="#2b2f3a"/>
<rect x="479.91" y="281.7" width="1" height="13.7" fill="#7d8088"/>
<rect x="479.21" y="281.7" width="2.4" height="12.7" fill="#656972"/>
<rect x="482.56" y="285.0" width="1" height="22.0" fill="#3a3e48"/>
<rect x="481.86" y="285.0" width="2.4" height="21.0" fill="#2b2f3a"/>
<rect x="485.21" y="294.7" width="1" height="7.6" fill="#8a8d94"/>
<rect x="484.51" y="296.7" width="2.4" height="4.6" fill="#e4465a"/>
<rect x="487.85" y="299.5" width="1" height="35.0" fill="#3a3e48"/>
<rect x="487.15" y="301.0" width="2.4" height="32.5" fill="#2b2f3a"/>
<rect x="490.50" y="331.5" width="1" height="23.5" fill="#3a3e48"/>
<rect x="489.80" y="333.5" width="2.4" height="18.5" fill="#2b2f3a"/>
<rect x="493.11" y="335.0" width="1" height="17.0" fill="#3a3e48"/>
<rect x="492.41" y="338.0" width="2.4" height="14.0" fill="#2b2f3a"/>
<rect x="495.72" y="336.0" width="1" height="13.0" fill="#7d8088"/>
<rect x="495.02" y="338.0" width="2.4" height="7.0" fill="#656972"/>
<rect x="498.33" y="334.5" width="1" height="11.5" fill="#7d8088"/>
<rect x="497.63" y="336.0" width="2.4" height="6.0" fill="#656972"/>
<rect x="500.94" y="323.0" width="1" height="17.0" fill="#7d8088"/>
<rect x="500.24" y="331.0" width="2.4" height="9.0" fill="#656972"/>
<rect x="503.56" y="327.0" width="1" height="11.0" fill="#8a8d94"/>
<rect x="502.86" y="331.0" width="2.4" height="7.0" fill="#e4465a"/>
<rect x="506.17" y="329.0" width="1" height="13.0" fill="#7d8088"/>
<rect x="505.47" y="331.0" width="2.4" height="7.0" fill="#656972"/>
<rect x="508.78" y="325.6" width="1" height="14.4" fill="#7d8088"/>
<rect x="508.08" y="326.6" width="2.4" height="11.4" fill="#656972"/>
<rect x="511.39" y="331.0" width="1" height="11.0" fill="#7d8088"/>
<rect x="510.69" y="332.0" width="2.4" height="8.0" fill="#656972"/>
<rect x="514.00" y="331.7" width="1" height="30.3" fill="#3a3e48"/>
<rect x="513.30" y="335.7" width="2.4" height="12.7" fill="#2b2f3a"/>
<rect x="516.64" y="315.5" width="1" height="20.2" fill="#3a3e48"/>
<rect x="515.94" y="317.0" width="2.4" height="18.7" fill="#2b2f3a"/>
<rect x="519.29" y="313.0" width="1" height="10.0" fill="#7d8088"/>
<rect x="518.59" y="317.0" width="2.4" height="4.0" fill="#656972"/>
<rect x="521.93" y="308.5" width="1" height="15.5" fill="#7d8088"/>
<rect x="521.23" y="310.5" width="2.4" height="11.5" fill="#656972"/>
<rect x="524.58" y="313.0" width="1" height="18.0" fill="#3a3e48"/>
<rect x="523.88" y="317.0" width="2.4" height="14.0" fill="#2b2f3a"/>
<rect x="527.22" y="318.0" width="1" height="19.0" fill="#7d8088"/>
<rect x="526.52" y="322.0" width="2.4" height="14.0" fill="#656972"/>
<rect x="529.87" y="316.0" width="1" height="29.0" fill="#3a3e48"/>
<rect x="529.17" y="317.0" width="2.4" height="17.6" fill="#2b2f3a"/>
<rect x="532.51" y="318.7" width="1" height="19.3" fill="#3a3e48"/>
<rect x="531.81" y="319.7" width="2.4" height="18.3" fill="#2b2f3a"/>
<rect x="535.16" y="305.0" width="1" height="17.7" fill="#8a8d94"/>
<rect x="534.46" y="306.0" width="2.4" height="13.7" fill="#43a552"/>
<rect x="537.80" y="297.0" width="1" height="13.0" fill="#7d8088"/>
<rect x="537.10" y="299.0" width="2.4" height="7.0" fill="#656972"/>
<rect x="540.44" y="290.0" width="1" height="17.0" fill="#3a3e48"/>
<rect x="539.74" y="299.0" width="2.4" height="7.0" fill="#2b2f3a"/>
<rect x="543.09" y="298.0" width="1" height="18.0" fill="#7d8088"/>
<rect x="542.39" y="301.0" width="2.4" height="12.0" fill="#656972"/>
<rect x="545.73" y="305.0" width="1" height="9.6" fill="#8a8d94"/>
<rect x="545.03" y="307.0" width="2.4" height="3.6" fill="#e4465a"/>
<rect x="548.38" y="299.5" width="1" height="37.2" fill="#3a3e48"/>
<rect x="547.68" y="301.0" width="2.4" height="34.7" fill="#2b2f3a"/>
<rect x="551.02" y="328.0" width="1" height="17.6" fill="#3a3e48"/>
<rect x="550.32" y="331.0" width="2.4" height="11.6" fill="#2b2f3a"/>
<rect x="553.67" y="333.6" width="1" height="15.9" fill="#3a3e48"/>
<rect x="552.97" y="334.6" width="2.4" height="8.0" fill="#2b2f3a"/>
<rect x="556.31" y="326.6" width="1" height="9.1" fill="#8a8d94"/>
<rect x="555.61" y="326.6" width="2.4" height="9.1" fill="#43a552"/>
<rect x="558.96" y="325.0" width="1" height="14.7" fill="#3a3e48"/>
<rect x="558.26" y="329.0" width="2.4" height="6.7" fill="#2b2f3a"/>
<rect x="561.60" y="329.0" width="1" height="8.0" fill="#7d8088"/>
<rect x="560.90" y="329.0" width="2.4" height="5.0" fill="#656972"/>
<rect x="564.24" y="320.0" width="1" height="12.0" fill="#3a3e48"/>
<rect x="563.54" y="324.0" width="2.4" height="7.0" fill="#2b2f3a"/>
<rect x="566.89" y="324.0" width="1" height="6.0" fill="#8a8d94"/>
<rect x="566.19" y="326.0" width="2.4" height="3.0" fill="#e4465a"/>
<rect x="569.53" y="325.0" width="1" height="5.0" fill="#7d8088"/>
<rect x="568.83" y="326.0" width="2.4" height="4.0" fill="#656972"/>
<rect x="572.18" y="322.5" width="1" height="9.5" fill="#3a3e48"/>
<rect x="571.48" y="324.0" width="2.4" height="7.0" fill="#2b2f3a"/>
<rect x="574.82" y="319.5" width="1" height="9.5" fill="#7d8088"/>
<rect x="574.12" y="321.0" width="2.4" height="5.0" fill="#656972"/>
<rect x="577.47" y="321.0" width="1" height="8.0" fill="#8a8d94"/>
<rect x="576.77" y="322.0" width="2.4" height="4.0" fill="#e4465a"/>
<rect x="580.11" y="321.5" width="1" height="9.0" fill="#7d8088"/>
<rect x="579.41" y="323.0" width="2.4" height="6.0" fill="#656972"/>
<rect x="582.76" y="323.6" width="1" height="9.4" fill="#3a3e48"/>
<rect x="582.06" y="326.6" width="2.4" height="4.4" fill="#2b2f3a"/>
<rect x="585.40" y="316.0" width="1" height="13.0" fill="#7d8088"/>
<rect x="584.70" y="317.0" width="2.4" height="12.0" fill="#656972"/>
<rect x="588.04" y="290.4" width="1" height="33.1" fill="#3a3e48"/>
<rect x="587.34" y="294.4" width="2.4" height="27.6" fill="#2b2f3a"/>
<rect x="590.69" y="290.0" width="1" height="10.7" fill="#7d8088"/>
<rect x="589.99" y="292.0" width="2.4" height="4.7" fill="#656972"/>
<rect x="593.33" y="273.7" width="1" height="26.0" fill="#7d8088"/>
<rect x="592.63" y="285.0" width="2.4" height="11.7" fill="#656972"/>
<rect x="595.98" y="271.6" width="1" height="23.4" fill="#7d8088"/>
<rect x="595.28" y="285.0" width="2.4" height="7.0" fill="#656972"/>
<rect x="598.62" y="282.0" width="1" height="21.0" fill="#3a3e48"/>
<rect x="597.92" y="284.0" width="2.4" height="16.0" fill="#2b2f3a"/>
<rect x="601.27" y="297.0" width="1" height="13.0" fill="#7d8088"/>
<rect x="600.57" y="298.0" width="2.4" height="9.0" fill="#656972"/>
<rect x="603.91" y="297.0" width="1" height="13.0" fill="#3a3e48"/>
<rect x="603.21" y="298.0" width="2.4" height="9.0" fill="#2b2f3a"/>
<rect x="606.56" y="297.0" width="1" height="18.0" fill="#3a3e48"/>
<rect x="605.86" y="300.0" width="2.4" height="9.5" fill="#2b2f3a"/>
<rect x="609.20" y="232.5" width="1" height="67.5" fill="#3a3e48"/>
<rect x="608.50" y="246.0" width="2.4" height="54.0" fill="#2b2f3a"/>
<rect x="611.84" y="244.0" width="1" height="7.0" fill="#8a8d94"/>
<rect x="611.14" y="246.0" width="2.4" height="4.0" fill="#e4465a"/>
<rect x="614.48" y="244.5" width="1" height="9.5" fill="#7d8088"/>
<rect x="613.77" y="247.5" width="2.4" height="6.5" fill="#656972"/>
<rect x="617.11" y="230.0" width="1" height="32.0" fill="#3a3e48"/>
<rect x="616.41" y="247.5" width="2.4" height="13.5" fill="#2b2f3a"/>
<rect x="619.75" y="246.5" width="1" height="13.5" fill="#8a8d94"/>
<rect x="619.05" y="247.5" width="2.4" height="11.5" fill="#e4465a"/>
<rect x="622.39" y="257.0" width="1" height="13.0" fill="#7d8088"/>
<rect x="621.69" y="259.0" width="2.4" height="7.0" fill="#656972"/>
<rect x="625.03" y="252.0" width="1" height="14.0" fill="#3a3e48"/>
<rect x="624.33" y="255.0" width="2.4" height="7.0" fill="#2b2f3a"/>
<rect x="627.66" y="236.0" width="1" height="26.0" fill="#3a3e48"/>
<rect x="626.96" y="236.0" width="2.4" height="23.0" fill="#2b2f3a"/>
<rect x="630.30" y="225.6" width="1" height="18.4" fill="#7d8088"/>
<rect x="629.60" y="239.0" width="2.4" height="5.0" fill="#656972"/>
<rect x="632.94" y="239.1" width="1" height="12.4" fill="#3a3e48"/>
<rect x="632.24" y="240.6" width="2.4" height="6.9" fill="#2b2f3a"/>
<rect x="635.58" y="237.0" width="1" height="14.0" fill="#7d8088"/>
<rect x="634.88" y="240.0" width="2.4" height="8.0" fill="#656972"/>
<rect x="638.21" y="221.5" width="1" height="22.2" fill="#3a3e48"/>
<rect x="637.51" y="224.5" width="2.4" height="17.2" fill="#2b2f3a"/>
<rect x="640.85" y="225.6" width="1" height="9.9" fill="#7d8088"/>
<rect x="640.15" y="225.6" width="2.4" height="6.9" fill="#656972"/>
<rect x="643.49" y="228.0" width="1" height="6.0" fill="#7d8088"/>
<rect x="642.79" y="228.0" width="2.4" height="5.0" fill="#656972"/>
<rect x="646.12" y="229.0" width="1" height="6.2" fill="#3a3e48"/>
<rect x="645.42" y="230.0" width="2.4" height="3.7" fill="#2b2f3a"/>
<rect x="648.76" y="225.6" width="1" height="9.2" fill="#7d8088"/>
<rect x="648.06" y="225.6" width="2.4" height="9.2" fill="#656972"/>
<rect x="651.40" y="214.0" width="1" height="17.0" fill="#3a3e48"/>
<rect x="650.70" y="224.0" width="2.4" height="4.0" fill="#2b2f3a"/>
<rect x="654.04" y="224.8" width="1" height="33.7" fill="#3a3e48"/>
<rect x="653.34" y="226.8" width="2.4" height="28.7" fill="#2b2f3a"/>
<rect x="656.67" y="249.8" width="1" height="3.2" fill="#8a8d94"/>
<rect x="655.97" y="249.8" width="2.4" height="3.2" fill="#e4465a"/>
<rect x="659.31" y="252.4" width="1" height="15.0" fill="#3a3e48"/>
<rect x="658.61" y="254.4" width="2.4" height="11.5" fill="#2b2f3a"/>
<rect x="661.95" y="256.0" width="1" height="12.9" fill="#7d8088"/>
<rect x="661.25" y="259.0" width="2.4" height="6.9" fill="#656972"/>
<rect x="664.59" y="256.0" width="1" height="15.0" fill="#3a3e48"/>
<rect x="663.89" y="259.0" width="2.4" height="9.0" fill="#2b2f3a"/>
<rect x="667.23" y="257.0" width="1" height="12.0" fill="#7d8088"/>
<rect x="666.52" y="258.0" width="2.4" height="7.0" fill="#656972"/>
<rect x="669.86" y="234.5" width="1" height="31.1" fill="#3a3e48"/>
<rect x="669.16" y="236.0" width="2.4" height="27.6" fill="#2b2f3a"/>
<rect x="672.50" y="197.5" width="1" height="45.5" fill="#3a3e48"/>
<rect x="671.80" y="204.0" width="2.4" height="36.0" fill="#2b2f3a"/>
<rect x="675.18" y="198.0" width="1" height="11.6" fill="#3a3e48"/>
<rect x="674.48" y="201.0" width="2.4" height="6.6" fill="#2b2f3a"/>
<rect x="677.86" y="193.0" width="1" height="15.6" fill="#7d8088"/>
<rect x="677.16" y="196.0" width="2.4" height="11.6" fill="#656972"/>
<rect x="680.54" y="178.0" width="1" height="30.0" fill="#3a3e48"/>
<rect x="679.84" y="196.0" width="2.4" height="8.0" fill="#2b2f3a"/>
<rect x="683.22" y="194.5" width="1" height="14.6" fill="#3a3e48"/>
<rect x="682.52" y="197.5" width="2.4" height="10.1" fill="#2b2f3a"/>
<rect x="685.90" y="197.0" width="1" height="11.6" fill="#7d8088"/>
<rect x="685.20" y="200.0" width="2.4" height="7.6" fill="#656972"/>
<rect x="688.58" y="204.0" width="1" height="15.0" fill="#3a3e48"/>
<rect x="687.88" y="206.0" width="2.4" height="8.4" fill="#2b2f3a"/>
<rect x="691.26" y="204.0" width="1" height="14.0" fill="#3a3e48"/>
<rect x="690.56" y="205.0" width="2.4" height="7.0" fill="#2b2f3a"/>
<rect x="693.94" y="196.0" width="1" height="11.0" fill="#7d8088"/>
<rect x="693.24" y="198.0" width="2.4" height="9.0" fill="#656972"/>
<rect x="696.62" y="186.0" width="1" height="18.6" fill="#8a8d94"/>
<rect x="695.92" y="188.0" width="2.4" height="14.6" fill="#43a552"/>
<rect x="699.30" y="189.3" width="1" height="11.7" fill="#3a3e48"/>
<rect x="698.60" y="190.8" width="2.4" height="10.2" fill="#2b2f3a"/>
<rect x="701.98" y="188.0" width="1" height="13.0" fill="#3a3e48"/>
<rect x="701.28" y="192.0" width="2.4" height="8.0" fill="#2b2f3a"/>
<rect x="704.66" y="192.0" width="1" height="30.8" fill="#7d8088"/>
<rect x="703.96" y="194.0" width="2.4" height="8.0" fill="#656972"/>
<rect x="707.34" y="187.4" width="1" height="14.6" fill="#3a3e48"/>
<rect x="706.64" y="187.4" width="2.4" height="13.6" fill="#2b2f3a"/>
<rect x="710.02" y="172.0" width="1" height="33.0" fill="#3a3e48"/>
<rect x="709.32" y="184.0" width="2.4" height="17.0" fill="#2b2f3a"/>
<rect x="712.70" y="138.4" width="1" height="47.1" fill="#3a3e48"/>
<rect x="712.00" y="152.8" width="2.4" height="31.2" fill="#2b2f3a"/>
<rect x="715.35" y="151.0" width="1" height="9.5" fill="#8a8d94"/>
<rect x="714.65" y="151.0" width="2.4" height="8.5" fill="#e4465a"/>
<rect x="717.99" y="151.3" width="1" height="14.7" fill="#7d8088"/>
<rect x="717.29" y="155.3" width="2.4" height="6.7" fill="#656972"/>
<rect x="720.64" y="154.7" width="1" height="23.2" fill="#3a3e48"/>
<rect x="719.94" y="158.7" width="2.4" height="17.7" fill="#2b2f3a"/>
<rect x="723.28" y="169.5" width="1" height="12.6" fill="#7d8088"/>
<rect x="722.58" y="170.5" width="2.4" height="10.1" fill="#656972"/>
<rect x="725.93" y="178.0" width="1" height="9.7" fill="#3a3e48"/>
<rect x="725.23" y="179.0" width="2.4" height="6.7" fill="#2b2f3a"/>
<rect x="728.57" y="181.0" width="1" height="8.7" fill="#7d8088"/>
<rect x="727.87" y="182.0" width="2.4" height="3.7" fill="#656972"/>
<rect x="731.22" y="184.0" width="1" height="15.5" fill="#3a3e48"/>
<rect x="730.52" y="184.0" width="2.4" height="13.5" fill="#2b2f3a"/>
<rect x="733.86" y="174.7" width="1" height="28.3" fill="#3a3e48"/>
<rect x="733.16" y="184.0" width="2.4" height="17.0" fill="#2b2f3a"/>
<rect x="736.51" y="193.0" width="1" height="25.4" fill="#3a3e48"/>
<rect x="735.81" y="194.0" width="2.4" height="20.4" fill="#2b2f3a"/>
<rect x="739.15" y="204.0" width="1" height="12.0" fill="#7d8088"/>
<rect x="738.45" y="205.0" width="2.4" height="5.0" fill="#656972"/>
<rect x="741.80" y="191.4" width="1" height="18.6" fill="#7d8088"/>
<rect x="741.10" y="192.4" width="2.4" height="13.6" fill="#656972"/>
<line x1="14.0" y1="193.1" x2="1084" y2="193.1" stroke="#2f7a64" stroke-width="1.6" stroke-dasharray="1.6 2.623"/>
<line x1="14.0" y1="215.2" x2="1084" y2="215.2" stroke="#3a3d44" stroke-width="1.6" stroke-dasharray="1.6 2.623"/>
<line x1="13.9" y1="204.1" x2="1084" y2="204.1" stroke="#2450d8" stroke-width="3" stroke-dasharray="3 5.455"/>
<rect x="315.5" y="177.5" width="768" height="45" fill="rgba(8,153,129,0.42)" stroke="#26a08c" stroke-width="1.6"/>
<rect x="647.5" y="209" width="436" height="8" fill="rgba(8,153,129,0.42)" stroke="#26a08c" stroke-width="1.6"/>
<rect x="104" y="362.5" width="979.5" height="43.8" fill="rgba(8,153,129,0.42)" stroke="#26a08c" stroke-width="1.6"/>
<line x1="315.8" y1="199.5" x2="1083" y2="199.5" stroke="#7d3fb0" stroke-width="2" stroke-dasharray="7.1 8.38"/>
<line x1="647.0" y1="212.9" x2="1083" y2="212.9" stroke="#7d3fb0" stroke-width="2" stroke-dasharray="7.1 8.38"/>
<line x1="104.7" y1="384" x2="1083" y2="384" stroke="#6c44a6" stroke-width="1.9" stroke-dasharray="7.1 8.38"/>
<line x1="14" y1="99.8" x2="1084" y2="99.8" stroke="#2962ff" stroke-width="3"/>
<line x1="14" y1="447.4" x2="1084" y2="447.4" stroke="#2962ff" stroke-width="3"/>
<line x1="14" y1="461.4" x2="1084" y2="461.4" stroke="#2962ff" stroke-width="3"/>
<polyline fill="none" stroke="#089981" stroke-width="3" stroke-linejoin="miter" points="742.5,191.4 757.9,158.8 766.5,177 779.4,157.7 792.7,177 835.6,72.5"/>
<polyline fill="none" stroke="#089981" stroke-width="3" points="816.5,80.4 835.6,72.5 843.8,91.1"/>
<polyline fill="none" stroke="#e83a4a" stroke-width="3" points="752.5,194.4 766,181 779.8,232.5 787.2,221.7 793,245.4 803.4,223.4 842.9,362.4"/>
<polyline fill="none" stroke="#e83a4a" stroke-width="3" points="826,354 842.9,362.4 853,345"/>
<text x="1097.6" y="115.5" font-size="17" letter-spacing="1.05" fill="#131722">80,000.0</text>
<text x="1097.6" y="181.6" font-size="17" letter-spacing="1.05" fill="#131722">76,000.0</text>
<text x="1097.6" y="248.5" font-size="17" letter-spacing="1.05" fill="#131722">72,000.0</text>
<text x="1097.6" y="316.5" font-size="17" letter-spacing="1.05" fill="#131722">68,000.0</text>
<text x="1097.6" y="383.6" font-size="17" letter-spacing="1.05" fill="#131722">64,000.0</text>
<text x="1097.6" y="517.6" font-size="17" letter-spacing="1.05" fill="#131722">56,000.0</text>
<path d="M1086 88 H1175.5 Q1178.5 88 1178.5 91 V109 Q1178.5 112 1175.5 112 H1086 Z" fill="#2962ff"/>
<text x="1097.6" y="104.7" font-size="17" letter-spacing="1.05" fill="#fff">80,619.8</text>
<path d="M1086 181.4 H1175.5 Q1178.5 181.4 1178.5 184.4 V221.60000000000002 Q1178.5 224.60000000000002 1175.5 224.60000000000002 H1086 Z" fill="#089981"/>
<text x="1097.6" y="198" font-size="17" letter-spacing="1.05" fill="#fff">75,075.8</text>
<text x="1097.6" y="217.3" font-size="17" letter-spacing="1.05" fill="#fff">01:07:23</text>
<path d="M1086 224.6 H1175.5 Q1178.5 224.6 1178.5 227.6 V245.4 Q1178.5 248.4 1175.5 248.4 H1086 Z" fill="#2962ff"/>
<text x="1097.6" y="241.4" font-size="17" letter-spacing="1.05" fill="#fff">74,406.0</text>
<path d="M1086 436 H1175.5 Q1178.5 436 1178.5 439 V456.5 Q1178.5 459.5 1175.5 459.5 H1086 Z" fill="#2962ff"/>
<text x="1097.6" y="452.9" font-size="17" letter-spacing="1.05" fill="#fff">59,897.0</text>
<path d="M1086 459.5 H1175.5 Q1178.5 459.5 1178.5 462.5 V479.7 Q1178.5 482.7 1175.5 482.7 H1086 Z" fill="#2962ff"/>
<text x="1097.6" y="476.3" font-size="17" letter-spacing="1.05" fill="#fff">59,053.2</text>
<text x="194" y="554.8" font-size="17" font-weight="bold" letter-spacing="0.5" fill="#131722">Mar</text>
<text x="523.3" y="555" font-size="17" font-weight="bold" letter-spacing="0.5" fill="#131722">Apr</text>
<text x="839.3" y="555" font-size="17" font-weight="bold" letter-spacing="0.5" fill="#131722">May</text>
<path d="M17.15 598.6 H33.6 V619 H25.5 V606.5 H17.15 Z" fill="#131313"/>
<circle cx="41" cy="602.55" r="3.9" fill="#131313"/>
<path d="M49.55 598.6 H58.6 L50.8 619 H41.45 Z" fill="#131313"/>
<text x="69" y="619" font-size="29" font-weight="bold" fill="#131313">TradingView</text>
</svg></body></html>
